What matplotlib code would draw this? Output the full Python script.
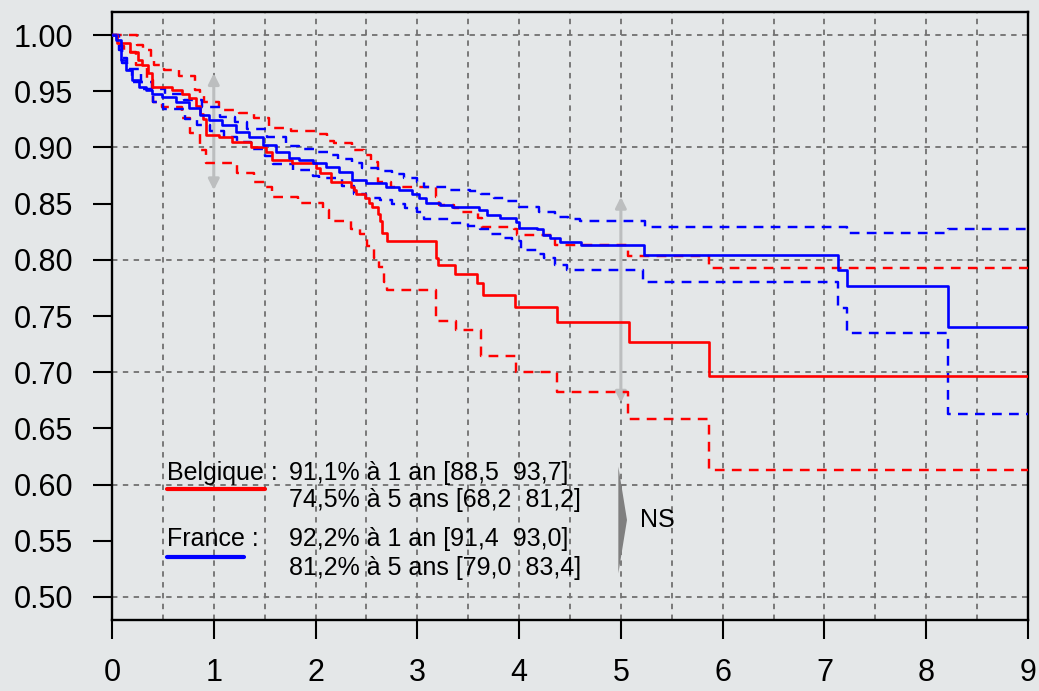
import numpy as np
import matplotlib
matplotlib.use('Agg')
import matplotlib.pyplot as plt
from matplotlib.patches import Polygon

plt.rcParams['font.family'] = ['Liberation Sans', 'DejaVu Sans']

# Kaplan-Meier curves: (time of drop, survival after drop)
bel_t = [0.05, 0.18, 0.26, 0.29, 0.35, 0.39, 0.59, 0.69, 0.76, 0.83, 0.86, 0.89, 0.92, 1.05, 1.18,
         1.37, 1.51, 1.57, 1.77, 2.0, 2.04, 2.15, 2.35, 2.38, 2.40, 2.49, 2.53, 2.55, 2.61, 2.63,
         2.65, 2.70, 3.18, 3.20, 3.37, 3.59, 3.65, 3.96, 4.37, 5.08, 5.87]
bel_s = [0.993, 0.985, 0.978, 0.973, 0.966, 0.954, 0.951, 0.948, 0.944, 0.937, 0.930, 0.925, 0.911,
         0.909, 0.905, 0.900, 0.896, 0.889, 0.886, 0.882, 0.877, 0.869, 0.865, 0.862, 0.859, 0.855,
         0.851, 0.847, 0.841, 0.835, 0.824, 0.817, 0.802, 0.795, 0.787, 0.779, 0.769, 0.758, 0.745,
         0.727, 0.697]

bel_up_t = [0.25, 0.30, 0.38, 0.41, 0.51, 0.66, 0.82, 0.86, 0.90, 1.05, 1.25, 1.40, 1.54, 1.76, 1.99,
            2.11, 2.18, 2.36, 2.48, 2.54, 2.61, 2.74, 3.18, 3.21, 3.36, 3.42, 3.60, 3.64, 3.95, 3.98,
            4.35, 5.07, 5.87]
bel_up_s = [0.991, 0.987, 0.980, 0.973, 0.969, 0.964, 0.951, 0.947, 0.940, 0.933, 0.931, 0.926, 0.917,
            0.915, 0.912, 0.906, 0.904, 0.898, 0.893, 0.887, 0.869, 0.865, 0.856, 0.849, 0.846, 0.843,
            0.837, 0.829, 0.827, 0.822, 0.813, 0.803, 0.793]

bel_lo_t = [0.05, 0.12, 0.24, 0.34, 0.40, 0.49, 0.69, 0.77, 0.86, 0.92, 1.23, 1.40, 1.51, 1.57, 1.83,
            2.07, 2.13, 2.35, 2.44, 2.51, 2.57, 2.62, 2.67, 2.70, 3.18, 3.38, 3.63, 3.97, 4.37, 5.07, 5.87]
bel_lo_s = [0.990, 0.985, 0.973, 0.960, 0.940, 0.936, 0.926, 0.913, 0.898, 0.886, 0.877, 0.869, 0.865,
            0.856, 0.851, 0.844, 0.835, 0.827, 0.823, 0.812, 0.802, 0.794, 0.780, 0.773, 0.746, 0.738,
            0.714, 0.700, 0.682, 0.658, 0.613]

fra_t = [0.04, 0.09, 0.14, 0.20, 0.27, 0.33, 0.39, 0.49, 0.63, 0.76, 0.86, 0.95, 1.08, 1.22, 1.35, 1.48,
         1.61, 1.74, 1.84, 1.97, 2.10, 2.23, 2.36, 2.50, 2.69, 2.82, 2.95, 3.02, 3.09, 3.22, 3.34, 3.61,
         3.68, 3.81, 3.97, 4.00, 4.18, 4.23, 4.30, 4.40, 4.61, 5.23, 7.13, 7.22, 8.21]
fra_s = [0.996, 0.978, 0.969, 0.960, 0.954, 0.951, 0.948, 0.945, 0.940, 0.935, 0.929, 0.924, 0.920,
         0.914, 0.909, 0.902, 0.896, 0.891, 0.889, 0.886, 0.883, 0.878, 0.871, 0.868, 0.865, 0.862,
         0.859, 0.855, 0.851, 0.849, 0.847, 0.844, 0.840, 0.837, 0.834, 0.828, 0.827, 0.822, 0.819,
         0.816, 0.813, 0.804, 0.791, 0.777, 0.740]

fra_up_t = [0.07, 0.10, 0.15, 0.28, 0.39, 0.52, 0.71, 0.88, 1.06, 1.21, 1.33, 1.52, 1.71, 1.84, 1.98,
            2.12, 2.22, 2.36, 2.46, 2.61, 2.75, 2.87, 3.00, 3.07, 3.30, 3.52, 3.63, 3.75, 3.88, 4.00,
            4.20, 4.35, 4.48, 4.60, 5.24, 7.22, 8.21]
fra_up_s = [0.987, 0.975, 0.970, 0.958, 0.952, 0.948, 0.942, 0.936, 0.927, 0.923, 0.916, 0.909, 0.901,
            0.899, 0.896, 0.893, 0.890, 0.886, 0.882, 0.879, 0.876, 0.873, 0.869, 0.865, 0.862, 0.861,
            0.859, 0.855, 0.852, 0.847, 0.843, 0.838, 0.836, 0.835, 0.829, 0.824, 0.827]

fra_lo_t = [0.05, 0.10, 0.15, 0.20, 0.30, 0.40, 0.50, 0.72, 0.84, 0.96, 1.10, 1.23, 1.37, 1.50, 1.58,
            1.78, 1.97, 2.03, 2.26, 2.38, 2.50, 2.63, 2.75, 2.88, 3.00, 3.07, 3.34, 3.50, 3.62, 3.71,
            3.83, 3.93, 4.02, 4.18, 4.24, 4.35, 4.47, 5.22, 7.13, 7.22, 8.21]
fra_lo_s = [0.991, 0.980, 0.969, 0.958, 0.952, 0.940, 0.934, 0.925, 0.920, 0.915, 0.909, 0.905, 0.899,
            0.892, 0.885, 0.880, 0.875, 0.873, 0.866, 0.859, 0.855, 0.853, 0.850, 0.846, 0.843, 0.836,
            0.833, 0.830, 0.827, 0.823, 0.819, 0.817, 0.809, 0.805, 0.802, 0.795, 0.791, 0.780, 0.757,
            0.735, 0.663]

legend_lines = [['91,1% à 1 an [88,5  93,7]', '74,5% à 5 ans [68,2  81,2]'],
                ['92,2% à 1 an [91,4  93,0]', '81,2% à 5 ans [79,0  83,4]']]
groups = ['Belgique :', 'France :']
t_max = 9

bg = '#e4e7e8'
fig = plt.figure(figsize=(10.39, 6.91), dpi=100, facecolor=bg)
ax = fig.add_axes([0.1078, 0.1027, 0.8816, 0.8799], facecolor=bg)


def km(t, s):
    return [0] + list(t) + [t_max], [1.0] + list(s) + [s[-1]]


# grid
for gx in np.arange(0.5, 9, 0.5):
    ax.axvline(gx, color='#707070', lw=1.3, ls=(0, (3, 3)), zorder=1)
for gy in np.arange(0.5, 1.01, 0.1):
    ax.axhline(gy, color='#707070', lw=1.3, ls=(0, (3, 3)), zorder=1)

# gray arrows
for xa, y0, y1 in [(1, 0.966, 0.862), (5, 0.856, 0.673)]:
    ax.annotate('', xy=(xa, y1), xytext=(xa, y0),
                arrowprops=dict(arrowstyle='<|-|>', color='#bcbebf', lw=2.2,
                                mutation_scale=16, shrinkA=0, shrinkB=0), zorder=2)

dash = (0, (4, 3))
for (t, s), (tu, su), (tl, sl), col in [((bel_t, bel_s), (bel_up_t, bel_up_s), (bel_lo_t, bel_lo_s), '#ff0000'),
                                         ((fra_t, fra_s), (fra_up_t, fra_up_s), (fra_lo_t, fra_lo_s), '#0000ff')]:
    ax.step(*km(tu, su), where='post', color=col, lw=1.75, ls=dash, zorder=3)
    ax.step(*km(tl, sl), where='post', color=col, lw=1.75, ls=dash, zorder=3)
    ax.step(*km(t, s), where='post', color=col, lw=1.9, zorder=4)

ax.set_xlim(0, t_max)
ax.set_ylim(0.4795, 1.0205)
ax.set_xticks(range(0, 10))
ax.set_yticks(np.arange(0.5, 1.001, 0.05))
ax.set_yticklabels(['%.2f' % v for v in np.arange(0.5, 1.001, 0.05)])
ax.tick_params(axis='both', labelsize=22, length=14, width=1.5, direction='out', colors='black')
ax.tick_params(axis='y', pad=14)
ax.tick_params(axis='x', pad=13)
for sp in ax.spines.values():
    sp.set_linewidth(1.7)

# legend block
ax.text(0.54, 0.604, groups[0], fontsize=18, va='baseline', ha='left')
ax.text(1.735, 0.604, legend_lines[0][0], fontsize=18, va='baseline', ha='left')
ax.text(1.735, 0.580, legend_lines[0][1], fontsize=18, va='baseline', ha='left')
ax.plot([0.54, 1.50], [0.596, 0.596], color='#ff0000', lw=3, solid_capstyle='round')
ax.text(0.54, 0.545, groups[1], fontsize=18, va='baseline', ha='left')
ax.text(1.735, 0.545, legend_lines[1][0], fontsize=18, va='baseline', ha='left')
ax.text(1.735, 0.5196, legend_lines[1][1], fontsize=18, va='baseline', ha='left')
ax.plot([0.54, 1.30], [0.5356, 0.5356], color='#0000ff', lw=3, solid_capstyle='round')

ax.add_patch(Polygon([(4.975, 0.616), (5.06, 0.5685), (4.975, 0.521)], closed=True,
                     facecolor='#7f7f7f', edgecolor='none', zorder=5))
ax.text(5.19, 0.5685, 'NS', fontsize=18, va='center', ha='left')

fig.savefig('out.png', dpi=100, facecolor=bg)
